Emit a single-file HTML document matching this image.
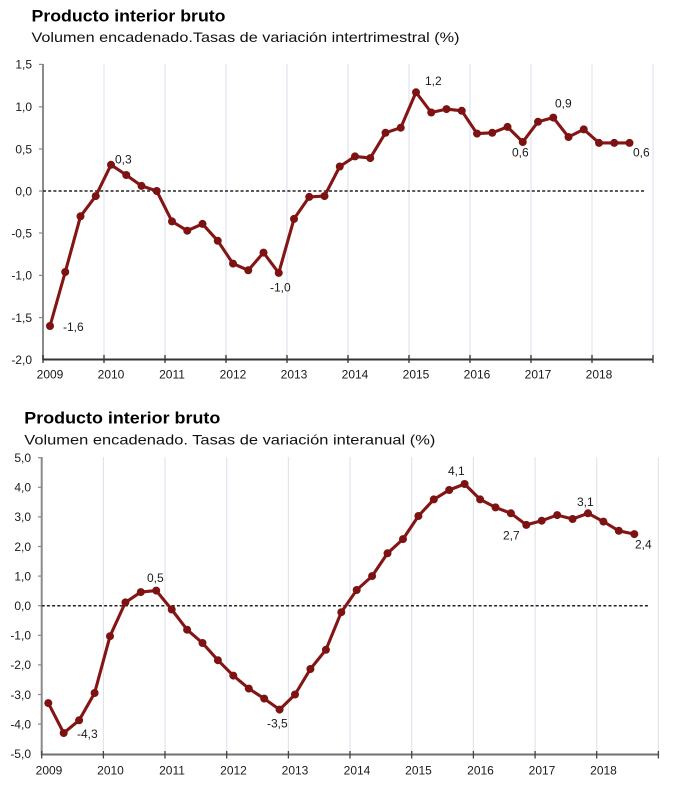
<!DOCTYPE html>
<html><head><meta charset="utf-8"><style>
html,body{margin:0;padding:0;background:#fff;}
svg{display:block;}
text{font-family:"Liberation Sans",Arial,sans-serif;}
.t{font-size:17px;font-weight:bold;fill:#000;}
.s{font-size:14px;fill:#111;}
.yl{font-size:12px;fill:#1a1a1a;text-anchor:end;}
.xl{font-size:12px;fill:#1a1a1a;text-anchor:middle;}
.dl{font-size:12px;fill:#1a1a1a;}
.grid line{stroke:#dfe5ef;stroke-width:1.2;}
.ln{fill:none;stroke:#851515;stroke-width:3.1;stroke-linejoin:round;marker-start:url(#m);marker-mid:url(#m);marker-end:url(#m);}
</style></head><body>
<svg width="680" height="788" viewBox="0 0 680 788" xmlns="http://www.w3.org/2000/svg">
<defs>
<marker id="m" markerUnits="userSpaceOnUse" markerWidth="10" markerHeight="10" refX="5" refY="5"><circle cx="5" cy="5" r="4" fill="#7d1212"/></marker>
</defs>
<rect width="680" height="788" fill="#fff"/>

<!-- TOP CHART -->
<text class="t" x="31.5" y="21.5" textLength="194" lengthAdjust="spacingAndGlyphs">Producto interior bruto</text>
<text class="s" x="31.5" y="42" textLength="428" lengthAdjust="spacingAndGlyphs">Volumen encadenado.Tasas de variación intertrimestral (%)</text>

<g class="grid">
<line x1="104" y1="64" x2="104" y2="359"/><line x1="165" y1="64" x2="165" y2="359"/>
<line x1="226" y1="64" x2="226" y2="359"/><line x1="287" y1="64" x2="287" y2="359"/>
<line x1="348" y1="64" x2="348" y2="359"/><line x1="409" y1="64" x2="409" y2="359"/>
<line x1="470" y1="64" x2="470" y2="359"/><line x1="531" y1="64" x2="531" y2="359"/>
<line x1="592" y1="64" x2="592" y2="359"/><line x1="653" y1="64" x2="653" y2="359"/>
</g>
<line x1="43" y1="64" x2="43" y2="360" stroke="#8a8a8a" stroke-width="2"/>
<g stroke="#8a8a8a" stroke-width="1.2">
<line x1="39" y1="64.4" x2="43" y2="64.4"/><line x1="39" y1="106.8" x2="43" y2="106.8"/>
<line x1="39" y1="149" x2="43" y2="149"/><line x1="39" y1="191" x2="43" y2="191"/>
<line x1="39" y1="233" x2="43" y2="233"/><line x1="39" y1="275.4" x2="43" y2="275.4"/>
<line x1="39" y1="317.6" x2="43" y2="317.6"/>
</g>
<line x1="43" y1="359.5" x2="653" y2="359.5" stroke="#333" stroke-width="2"/>
<g stroke="#333" stroke-width="1.3">
<line x1="43" y1="355" x2="43" y2="363"/><line x1="104" y1="355" x2="104" y2="363"/>
<line x1="165" y1="355" x2="165" y2="363"/><line x1="226" y1="355" x2="226" y2="363"/>
<line x1="287" y1="355" x2="287" y2="363"/><line x1="348" y1="355" x2="348" y2="363"/>
<line x1="409" y1="355" x2="409" y2="363"/><line x1="470" y1="355" x2="470" y2="363"/>
<line x1="531" y1="355" x2="531" y2="363"/><line x1="592" y1="355" x2="592" y2="363"/>
<line x1="653" y1="355" x2="653" y2="363"/>
</g>
<line x1="43" y1="191" x2="646" y2="191" stroke="#222" stroke-width="1.5" stroke-dasharray="3,2.2"/>

<g>
<text class="yl" x="32" y="68.7">1,5</text>
<text class="yl" x="32" y="111">1,0</text>
<text class="yl" x="32" y="153.3">0,5</text>
<text class="yl" x="32" y="195.3">0,0</text>
<text class="yl" x="32" y="237.3">-0,5</text>
<text class="yl" x="32" y="279.6">-1,0</text>
<text class="yl" x="32" y="321.8">-1,5</text>
<text class="yl" x="32" y="364">-2,0</text>
</g>
<g>
<text class="xl" x="50" y="378.6">2009</text><text class="xl" x="111" y="378.6">2010</text>
<text class="xl" x="172" y="378.6">2011</text><text class="xl" x="233" y="378.6">2012</text>
<text class="xl" x="294" y="378.6">2013</text><text class="xl" x="355" y="378.6">2014</text>
<text class="xl" x="416" y="378.6">2015</text><text class="xl" x="477" y="378.6">2016</text>
<text class="xl" x="538" y="378.6">2017</text><text class="xl" x="599" y="378.6">2018</text>
</g>

<polyline class="ln" points="50,326 65.25,272 80.5,216.3 95.75,196.1 111,164.8 126.25,175 141.5,185.9 156.75,191 172,221.4 187.25,230.7 202.5,223.9 217.75,240.8 233,263.6 248.25,270.3 263.5,252.6 278.75,272.9 294,218.9 309.25,196.9 324.5,196.1 339.75,166.5 355,156.4 370.25,158.1 385.5,132.8 400.75,127.7 416,92.3 431.25,112.5 446.5,109.1 461.75,110.8 477,133.6 492.25,132.8 507.5,126.9 522.75,142 538,121.8 553.25,117.6 568.5,137 583.75,129.4 599,142.9 614.25,142.9 629.5,142.9"/>

<text class="dl" x="115" y="163.5">0,3</text>
<text class="dl" x="63" y="331">-1,6</text>
<text class="dl" x="270" y="291.3">-1,0</text>
<text class="dl" x="425" y="85">1,2</text>
<text class="dl" x="555" y="107.5">0,9</text>
<text class="dl" x="512" y="156.5">0,6</text>
<text class="dl" x="633" y="156.5">0,6</text>

<!-- BOTTOM CHART -->
<text class="t" x="24.3" y="423.3" textLength="196" lengthAdjust="spacingAndGlyphs">Producto interior bruto</text>
<text class="s" x="24.3" y="444.3" textLength="411" lengthAdjust="spacingAndGlyphs">Volumen encadenado. Tasas de variación interanual (%)</text>

<g class="grid">
<line x1="103.4" y1="457" x2="103.4" y2="754"/><line x1="165" y1="457" x2="165" y2="754"/>
<line x1="226.7" y1="457" x2="226.7" y2="754"/><line x1="288.4" y1="457" x2="288.4" y2="754"/>
<line x1="350" y1="457" x2="350" y2="754"/><line x1="411.7" y1="457" x2="411.7" y2="754"/>
<line x1="473.4" y1="457" x2="473.4" y2="754"/><line x1="535.1" y1="457" x2="535.1" y2="754"/>
<line x1="596.7" y1="457" x2="596.7" y2="754"/><line x1="658.4" y1="457" x2="658.4" y2="754"/>
</g>
<line x1="41.7" y1="457" x2="41.7" y2="755" stroke="#8a8a8a" stroke-width="2"/>
<g stroke="#8a8a8a" stroke-width="1.2">
<line x1="38" y1="457.7" x2="41.7" y2="457.7"/><line x1="38" y1="487.3" x2="41.7" y2="487.3"/>
<line x1="38" y1="516.9" x2="41.7" y2="516.9"/><line x1="38" y1="546.5" x2="41.7" y2="546.5"/>
<line x1="38" y1="576.1" x2="41.7" y2="576.1"/><line x1="38" y1="605.7" x2="41.7" y2="605.7"/>
<line x1="38" y1="635.3" x2="41.7" y2="635.3"/><line x1="38" y1="664.9" x2="41.7" y2="664.9"/>
<line x1="38" y1="694.5" x2="41.7" y2="694.5"/><line x1="38" y1="724.1" x2="41.7" y2="724.1"/>
</g>
<line x1="41.7" y1="754.5" x2="658.4" y2="754.5" stroke="#707070" stroke-width="2"/>
<g stroke="#444" stroke-width="1.3">
<line x1="41.7" y1="751" x2="41.7" y2="758.5"/><line x1="103.4" y1="751" x2="103.4" y2="758.5"/>
<line x1="165" y1="751" x2="165" y2="758.5"/><line x1="226.7" y1="751" x2="226.7" y2="758.5"/>
<line x1="288.4" y1="751" x2="288.4" y2="758.5"/><line x1="350" y1="751" x2="350" y2="758.5"/>
<line x1="411.7" y1="751" x2="411.7" y2="758.5"/><line x1="473.4" y1="751" x2="473.4" y2="758.5"/>
<line x1="535.1" y1="751" x2="535.1" y2="758.5"/><line x1="596.7" y1="751" x2="596.7" y2="758.5"/>
<line x1="658.4" y1="751" x2="658.4" y2="758.5"/>
</g>
<line x1="41.7" y1="605.7" x2="650" y2="605.7" stroke="#222" stroke-width="1.5" stroke-dasharray="3,2.2"/>

<g>
<text class="yl" x="31" y="462">5,0</text>
<text class="yl" x="31" y="491.6">4,0</text>
<text class="yl" x="31" y="521.2">3,0</text>
<text class="yl" x="31" y="550.8">2,0</text>
<text class="yl" x="31" y="580.4">1,0</text>
<text class="yl" x="31" y="610">0,0</text>
<text class="yl" x="31" y="639.6">-1,0</text>
<text class="yl" x="31" y="669.2">-2,0</text>
<text class="yl" x="31" y="698.8">-3,0</text>
<text class="yl" x="31" y="728.4">-4,0</text>
<text class="yl" x="31" y="758">-5,0</text>
</g>
<g>
<text class="xl" x="49" y="774.6">2009</text><text class="xl" x="110.5" y="774.6">2010</text>
<text class="xl" x="172" y="774.6">2011</text><text class="xl" x="233.5" y="774.6">2012</text>
<text class="xl" x="295" y="774.6">2013</text><text class="xl" x="357" y="774.6">2014</text>
<text class="xl" x="418.5" y="774.6">2015</text><text class="xl" x="480.5" y="774.6">2016</text>
<text class="xl" x="542" y="774.6">2017</text><text class="xl" x="603.5" y="774.6">2018</text>
</g>

<polyline class="ln" points="48.3,703.1 63.7,733 79.1,720.3 94.6,693 110,636.2 125.4,602.4 140.8,592.1 156.2,590.6 171.7,609.5 187.1,629.7 202.5,643 217.9,660.2 233.3,675.6 248.8,688.6 264.2,698.6 279.6,709.6 295,694.5 310.4,669 325.9,649.8 341.3,612.2 356.7,590 372.1,576.1 387.5,553.3 403,539.1 418.4,516 433.8,499.4 449.2,490 464.6,484 480.1,499.4 495.5,507.4 510.9,513.3 526.3,524.9 541.7,520.7 557.2,515.1 572.6,519 588,513.3 603.4,521.6 618.8,530.8 634.3,534.1"/>

<text class="dl" x="147" y="582">0,5</text>
<text class="dl" x="77" y="738">-4,3</text>
<text class="dl" x="267" y="727.5">-3,5</text>
<text class="dl" x="448" y="475">4,1</text>
<text class="dl" x="577" y="506">3,1</text>
<text class="dl" x="503" y="539.5">2,7</text>
<text class="dl" x="635" y="548.5">2,4</text>
</svg>
</body></html>
